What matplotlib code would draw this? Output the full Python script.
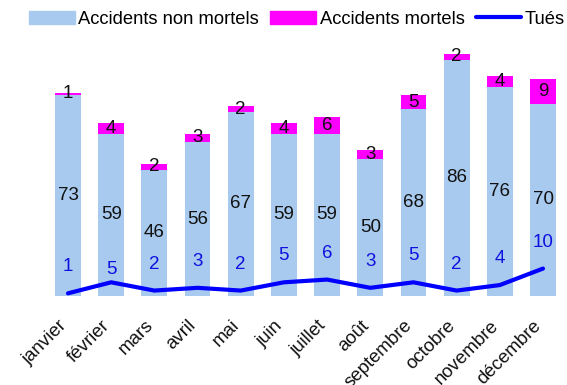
import numpy as np
import matplotlib
matplotlib.use('Agg')
import matplotlib.pyplot as plt
from matplotlib.patches import Patch
from matplotlib.lines import Line2D

# --- data ---
mois = ['janvier', 'février', 'mars', 'avril', 'mai', 'juin', 'juillet',
        'août', 'septembre', 'octobre', 'novembre', 'décembre']
non_mortels = [73, 59, 46, 56, 67, 59, 59, 50, 68, 86, 76, 70]
mortels = [1, 4, 2, 3, 2, 4, 6, 3, 5, 2, 4, 9]
tues = [1, 5, 2, 3, 2, 5, 6, 3, 5, 2, 4, 10]

c_non = '#a8caee'
c_mort = '#ff00ff'
c_tues = '#0000ff'

plt.rcParams['font.family'] = ['Liberation Sans', 'DejaVu Sans']

fig = plt.figure(figsize=(5.67, 3.85), dpi=100)
ax = fig.add_axes([0.0818, 0.231, 0.914, 0.643])

x = np.arange(len(mois))
ax.bar(x, non_mortels, width=0.6, color=c_non)
ax.bar(x, mortels, width=0.6, bottom=non_mortels, color=c_mort)
ax.plot(x, tues, color=c_tues, lw=3, solid_capstyle='round')

# value labels centred in each segment
for i in x:
    ax.text(i, non_mortels[i] / 2, str(non_mortels[i]), ha='center',
            va='center', fontsize=13.5, color='#111111')
    ax.text(i, non_mortels[i] + mortels[i] / 2, str(mortels[i]), ha='center',
            va='center', fontsize=13.5, color='#111111')
    dy = 9 if i == 1 else 19
    ax.annotate(str(tues[i]), (i, tues[i]), xytext=(0, dy),
                textcoords='offset points', ha='center', va='center',
                fontsize=13.5, color='#1010e0')

ax.set_xlim(-0.5, len(mois) - 0.5)
ax.set_ylim(0, 90)
ax.set_xticks([])
ax.set_yticks([])
for s in ax.spines.values():
    s.set_visible(False)

# month names, rotated, hanging below each bar
for i, m in enumerate(mois):
    ax.annotate(m, (i, 0), xytext=(-10, -21), textcoords='offset pixels',
                rotation=45, rotation_mode='anchor', ha='right', va='top',
                fontsize=13.4, color='#111111', annotation_clip=False)

handles = [Patch(color=c_non), Patch(color=c_mort),
           Line2D([], [], color=c_tues, lw=3, solid_capstyle='round')]
fig.legend(handles, ['Accidents non mortels', 'Accidents mortels', 'Tués'],
           loc='center left', bbox_to_anchor=(0.051, 0.95), ncol=3,
           frameon=False, fontsize=13.2, handlelength=2.5, handletextpad=0.2,
           columnspacing=0.6, borderpad=0, borderaxespad=0)

fig.savefig('out.png', dpi=100)
